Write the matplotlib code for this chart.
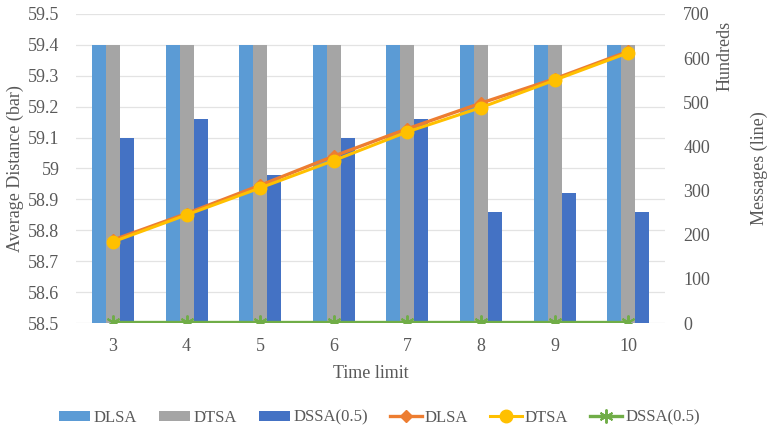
import numpy as np
import matplotlib.pyplot as plt

plt.rcParams['font.family'] = ['Liberation Serif', 'DejaVu Serif']

time_limit = [3, 4, 5, 6, 7, 8, 9, 10]

# average distance (bars, left axis)
dist_dlsa = [59.4, 59.4, 59.4, 59.4, 59.4, 59.4, 59.4, 59.4]
dist_dtsa = [59.4, 59.4, 59.4, 59.4, 59.4, 59.4, 59.4, 59.4]
dist_dssa = [59.10, 59.16, 58.98, 59.10, 59.16, 58.86, 58.92, 58.86]

# messages in hundreds (lines, right axis)
msg_dlsa = [188, 248, 312, 378, 440, 498, 553, 615]
msg_dtsa = [184, 245, 306, 368, 433, 488, 550, 612]
msg_dssa = [2, 2, 2, 2, 2, 2, 2, 2]

txt = '#595959'
fs = 13
fig = plt.figure(figsize=(7.69, 4.32), dpi=100)
ax = fig.add_axes([0.099, 0.252, 0.766, 0.716])
x = np.array(time_limit)
w = 0.19
base = 58.5
b1 = ax.bar(x - w, np.array(dist_dlsa) - base, w, bottom=base, color='#5B9BD5', label='DLSA')
b2 = ax.bar(x, np.array(dist_dtsa) - base, w, bottom=base, color='#A5A5A5', label='DTSA')
b3 = ax.bar(x + w, np.array(dist_dssa) - base, w, bottom=base, color='#4472C4', label='DSSA(0.5)')
ax.set_ylim(58.5, 59.5)
ax.set_yticks(np.arange(58.5, 59.51, 0.1))
ax.set_yticklabels(['58.5', '58.6', '58.7', '58.8', '58.9', '59', '59.1', '59.2', '59.3', '59.4', '59.5'])
ax.set_xlim(2.5, 10.5)
ax.set_xticks(x)
ax.grid(axis='y', color='#E3E3E3', lw=0.9)
ax.set_axisbelow(True)
for s in ax.spines.values():
    s.set_visible(False)
ax.tick_params(length=0, colors=txt, labelsize=fs, pad=12)
ax.tick_params(axis='x', pad=11)
ax.set_xlabel('Time limit', color=txt, fontsize=fs, labelpad=7)
ax.set_ylabel('Average Distance (bar)', color=txt, fontsize=fs, labelpad=3)

ax2 = ax.twinx()
l1, = ax2.plot(x, msg_dlsa, color='#ED7D31', lw=2.4, marker='D', ms=6, label='DLSA')
l2, = ax2.plot(x, msg_dtsa, color='#FFC000', lw=2.2, marker='o', ms=9, label='DTSA')
l3, = ax2.plot(x, msg_dssa, color='#70AD47', lw=2.4, marker=(6, 2, 0), ms=10, mew=1.4,
               label='DSSA(0.5)')
ax2.set_ylim(0, 700)
ax2.set_yticks(range(0, 701, 100))
for s in ax2.spines.values():
    s.set_visible(False)
ax2.tick_params(length=0, colors=txt, labelsize=fs, pad=13)
ax2.set_ylabel('Messages (line)', color=txt, fontsize=fs)
ax2.yaxis.set_label_coords(1.145, 0.5)
fig.text(0.943, 0.87, 'Hundreds', rotation=90, color=txt, fontsize=fs, ha='center', va='center')

fig.legend(handles=[b1, b2, b3, l1, l2, l3], loc='center', bbox_to_anchor=(0.493, 0.033),
           ncol=6, frameon=False, fontsize=12, labelcolor=txt, handlelength=1.9,
           handleheight=0.5, columnspacing=1.3, handletextpad=0.2)
fig.savefig('out.png', dpi=100)
